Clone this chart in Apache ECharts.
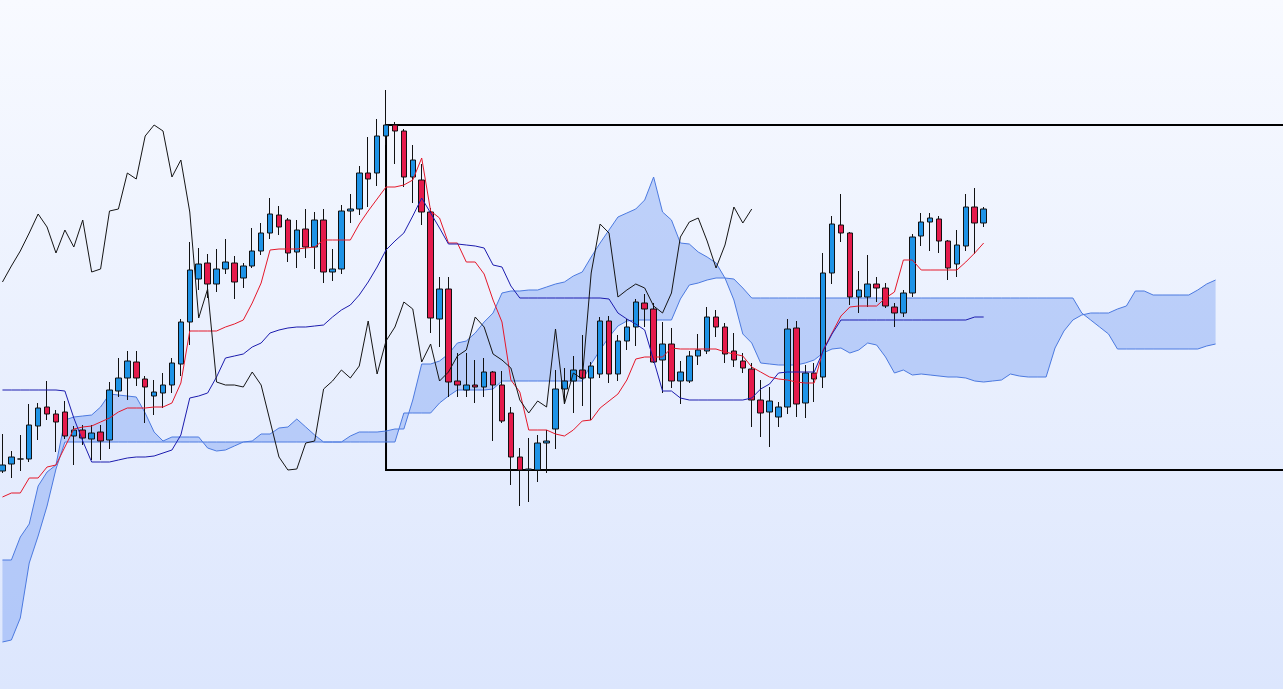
<!DOCTYPE html>
<html><head><meta charset="utf-8">
<script src="https://cdn.jsdelivr.net/npm/echarts@6/dist/echarts.min.js"></script>
<style>html,body{margin:0;padding:0;overflow:hidden;}#c{width:1283px;height:689px;}</style>
</head><body><div id="c"></div>
<script>
// categories (period labels), 111 candles + 26 forward periods for the cloud + padding
const categories = Array.from({length:145}, (_, i) => String(i));

const opens = [22.9,23.6,24.1,24.1,27.4,29.3,28.6,28.8,26.4,27.0,26.1,26.8,26.0,30.9,32.2,33.8,32.1,30.4,30.7,31.5,
33.6,37.8,42.1,43.7,41.6,43.1,43.7,42.2,43.4,44.9,46.7,48.5,48.0,44.8,47.1,45.3,48.0,42.8,43.1,48.9,
49.1,52.7,52.7,56.4,57.5,56.9,52.3,52.0,48.8,38.1,41.1,31.9,31.0,31.5,31.3,32.8,31.5,28.7,24.3,23.0,
23.0,25.7,27.1,31.1,31.9,33.0,32.2,32.6,37.9,32.6,35.9,37.3,39.7,39.1,34.0,35.6,31.9,31.9,34.4,34.9,
38.3,37.3,34.9,33.9,33.1,30.0,28.8,28.3,29.3,37.2,29.7,32.7,32.3,42.7,47.5,46.7,40.3,40.3,41.6,41.2,
39.3,38.7,40.7,46.4,47.8,48.1,45.9,43.6,45.4,49.3,47.7];
const closes = [23.5,24.3,24.1,27.5,29.2,28.6,27.8,26.4,27.0,26.2,26.7,25.9,31.0,32.2,33.9,32.2,31.3,30.8,31.5,33.7,
37.8,43.0,43.6,41.6,43.1,43.8,41.8,43.4,44.9,46.7,48.6,47.3,44.7,47.0,45.3,48.0,42.8,43.1,48.9,49.1,
52.7,52.1,56.4,57.5,56.9,52.3,54.0,48.8,38.2,41.1,31.8,31.5,31.5,31.3,32.8,31.5,27.9,24.3,23.0,23.1,
25.7,25.9,31.1,31.9,33.0,32.2,33.4,37.9,32.6,35.9,37.3,39.8,39.1,33.8,35.6,31.9,32.8,34.4,35.0,38.3,
37.3,34.6,34.0,33.2,30.0,28.7,29.9,29.3,37.1,29.6,32.7,32.1,42.7,47.6,46.7,40.3,41.0,41.6,41.2,39.4,
38.7,40.7,46.3,47.8,48.2,45.9,43.2,45.5,49.3,47.7,49.1];
const lows = [22.7,22.2,22.9,23.8,26.0,28.0,24.8,26.1,23.5,25.5,24.0,24.0,25.1,30.3,30.0,31.4,27.7,28.5,29.2,30.7,
32.4,35.5,41.0,40.2,40.8,42.6,40.1,41.2,43.2,44.5,46.1,46.5,43.8,43.2,44.2,43.1,41.7,41.9,42.6,47.7,
48.5,49.3,51.4,55.5,53.6,51.3,49.7,47.5,36.7,35.3,30.3,30.3,30.3,29.7,30.3,25.9,27.7,21.5,19.4,19.8,
21.8,22.7,25.1,29.6,28.7,29.4,28.0,32.2,31.7,31.9,35.0,35.4,37.3,33.7,30.7,31.2,29.6,31.7,33.5,34.6,
36.3,33.7,33.3,32.7,27.3,26.3,25.3,27.3,28.6,28.3,28.2,29.8,31.2,41.6,45.8,39.5,38.7,39.3,39.8,39.2,
37.3,38.3,40.3,45.4,44.9,44.7,42.0,42.3,44.9,44.6,47.3];
const highs = [26.6,24.9,26.5,29.6,29.7,31.9,29.0,29.9,27.4,27.5,27.5,27.5,31.8,34.2,34.9,34.9,32.4,32.0,32.7,34.2,
38.1,45.8,45.2,44.6,45.1,46.1,44.4,43.7,47.2,47.7,50.2,49.4,48.2,48.0,49.1,48.8,49.1,45.1,49.5,50.6,
53.4,56.3,58.1,61.0,57.8,57.1,55.5,53.6,49.2,42.3,42.3,34.7,34.7,34.0,34.2,32.9,32.9,29.3,25.2,26.2,
26.5,27.0,33.0,33.2,34.4,36.5,33.8,38.3,38.4,36.5,38.1,40.1,40.6,39.7,37.8,37.2,33.9,34.9,36.6,39.3,
39.0,37.7,36.7,34.7,33.7,32.0,31.3,29.8,38.1,37.9,33.5,33.7,44.7,48.4,50.6,46.8,42.9,44.5,42.3,41.7,
39.7,41.0,46.6,48.7,48.7,48.4,46.0,47.0,50.6,51.2,49.3];

const tenkan = [20.3,20.7,20.7,22.2,22.2,23.3,23.5,25.3,27.1,27.3,27.4,27.8,28.2,28.8,29.2,29.2,29.2,29.3,29.3,29.7,
31.7,36.9,36.9,36.9,36.9,37.3,37.6,38.0,39.7,41.7,45.0,45.1,45.1,45.1,45.2,45.3,46.0,46.0,46.0,46.0,
47.6,48.9,50.1,51.3,51.3,51.5,52.0,54.2,48.9,48.2,45.7,45.7,43.8,43.8,42.6,40.0,37.8,32.0,30.8,27.0,
27.0,27.0,26.6,26.4,27.0,27.9,28.0,29.2,29.9,30.6,32.0,34.1,34.3,34.3,34.3,35.2,35.1,35.1,35.1,35.1,
35.1,34.8,34.6,34.4,33.3,32.8,32.3,32.1,32.0,31.8,31.7,31.7,35.0,36.7,38.4,39.3,39.4,39.4,39.4,40.2,
40.8,44.0,44.0,43.0,43.0,43.0,43.0,43.0,43.8,44.7,45.7];
const kijun = [31.0,31.0,31.0,31.0,31.0,31.0,31.0,30.9,28.2,25.9,23.8,23.8,23.8,24.0,24.2,24.3,24.3,24.4,24.7,25.0,
26.5,30.2,30.4,30.7,32.3,34.2,34.4,34.6,35.3,35.7,36.7,37.0,37.2,37.3,37.3,37.4,37.5,38.3,39.0,39.5,
40.5,41.8,43.3,45.0,45.9,46.7,48.4,50.2,48.7,47.2,45.6,45.6,45.5,45.4,45.2,43.5,43.3,41.4,40.2,40.2,
40.2,40.2,40.2,40.2,40.2,40.2,40.2,40.2,40.1,38.7,38.1,37.6,37.0,34.0,30.9,30.9,30.2,30.0,30.0,30.0,
30.0,30.0,30.0,30.0,30.2,31.1,31.6,32.7,32.8,32.8,32.8,32.8,34.9,36.6,38.0,38.0,38.0,38.0,38.0,38.0,
38.0,38.0,38.0,38.0,38.0,38.0,38.0,38.0,38.0,38.3,38.3];
const senkouA = [14.0,14.0,16.3,17.6,21.4,22.8,23.5,28.0,28.3,28.4,28.5,29.3,30.6,30.5,30.4,30.3,28.7,26.8,25.9,26.3,
26.3,26.3,26.3,25.2,24.9,25.0,25.4,25.8,25.9,26.6,26.6,27.2,27.3,28.1,27.3,26.5,25.8,25.8,25.8,26.4,
26.8,26.8,26.8,26.9,27.1,27.1,30.0,33.6,33.6,33.9,34.6,35.7,35.9,36.7,37.8,38.7,40.7,40.9,40.9,41.0,
41.0,41.3,41.6,41.8,42.4,42.8,44.3,45.7,47.0,48.3,48.7,49.1,50.0,52.3,48.8,48.0,45.7,45.6,44.8,44.3,
43.7,42.2,40.0,36.6,35.7,33.7,33.6,33.5,33.5,33.5,33.7,34.0,34.7,35.1,35.2,34.7,35.0,35.7,35.5,34.3,
32.7,33.0,32.5,32.6,32.5,32.4,32.3,32.3,32.2,31.9,31.8,31.9,32.0,32.6,32.4,32.3,32.3,32.3,35.2,36.9,
38.0,38.5,38.7,38.7,38.7,39.1,39.4,40.9,40.9,40.5,40.5,40.5,40.5,40.5,41.0,41.6,42.0];
const senkouB = [5.8,6.0,8.2,13.7,16.4,19.4,23.1,25.8,25.8,25.8,25.8,25.8,25.8,25.8,25.8,25.8,25.8,25.8,25.8,25.8,
25.8,25.8,25.8,25.8,25.8,25.8,25.8,25.8,25.8,25.8,25.8,25.8,25.8,25.8,25.8,25.8,25.8,25.8,25.8,25.8,
25.8,25.8,25.8,25.8,25.8,28.7,28.7,28.7,28.7,29.7,30.4,31.0,31.0,31.0,31.0,31.1,31.9,31.9,31.9,31.9,
31.9,31.9,31.9,31.9,31.9,31.9,33.6,35.0,36.3,37.4,37.9,38.0,38.0,38.0,38.0,38.0,40.1,41.5,41.7,42.0,
42.2,42.2,42.1,41.2,40.2,40.2,40.2,40.2,40.2,40.2,40.2,40.2,40.2,40.2,40.2,40.2,40.2,40.2,40.2,40.2,
40.2,40.2,40.2,40.2,40.2,40.2,40.2,40.2,40.2,40.2,40.2,40.2,40.2,40.2,40.2,40.2,40.2,40.2,40.2,40.2,
40.2,38.7,38.0,37.3,36.6,35.1,35.1,35.1,35.1,35.1,35.1,35.1,35.1,35.1,35.1,35.4,35.6];
const SHIFT = 26;
// lagging line: closes displaced back by 26 periods
const chikou = closes.slice(SHIFT);
// box
const boxStart = 43, boxEnd = 144, boxTop = 57.5, boxBottom = 23.0;

const candleData = opens.map((o, i) => [o, closes[i], lows[i], highs[i]]);

const chart = echarts.init(document.getElementById('c'), null, {renderer: 'canvas'});
chart.setOption({
  animation: false,
  backgroundColor: new echarts.graphic.LinearGradient(0, 0, 0, 1, [
    {offset: 0, color: '#f8faff'}, {offset: 1, color: '#dce6fd'}
  ]),
  grid: {left: -2, top: 0, width: 1293.4, height: 689, containLabel: false, outerBoundsMode: 'none'},
  xAxis: {type: 'category', data: categories, boundaryGap: true, show: false},
  yAxis: {type: 'value', min: 1.1, max: 70, show: false, splitLine: {show: false}},
  series: [
    {
      type: 'custom', name: 'cloud', z: 1, silent: true, clip: false,
      data: [[0, 0]],
      renderItem: function (params, api) {
        const pts = [];
        for (let i = 0; i < senkouA.length; i++) pts.push(api.coord([i, senkouA[i]]));
        for (let i = senkouB.length - 1; i >= 0; i--) pts.push(api.coord([i, senkouB[i]]));
        return {type: 'polygon', shape: {points: pts}, style: {fill: 'rgba(100,145,240,0.36)', stroke: null}};
      }
    },
    {type: 'line', name: 'Senkou A', data: senkouA, z: 2, symbol: 'none', silent: true,
     lineStyle: {color: '#4c7ae0', width: 1}},
    {type: 'line', name: 'Senkou B', data: senkouB, z: 2, symbol: 'none', silent: true,
     lineStyle: {color: '#4c7ae0', width: 1}},
    {type: 'candlestick', name: 'Price', data: candleData, z: 3, barWidth: 6, silent: true,
     itemStyle: {color: '#1e93e6', color0: '#e51b4c', borderColor: '#111', borderColor0: '#111', borderWidth: 1}},
    {type: 'line', name: 'Tenkan', data: tenkan, z: 4, symbol: 'none', silent: true,
     lineStyle: {color: '#e5182a', width: 1}},
    {type: 'line', name: 'Kijun', data: kijun, z: 4, symbol: 'none', silent: true,
     lineStyle: {color: '#1c1cae', width: 1}},
    {type: 'line', name: 'Chikou', data: chikou, z: 5, symbol: 'none', silent: true,
     lineStyle: {color: '#151515', width: 1},
     markArea: {silent: true,
       itemStyle: {color: 'rgba(0,0,0,0)', borderColor: '#000', borderWidth: 2},
       data: [[{xAxis: boxStart, yAxis: boxTop}, {xAxis: boxEnd, yAxis: boxBottom}]]}}
  ]
});
</script>
</body></html>
